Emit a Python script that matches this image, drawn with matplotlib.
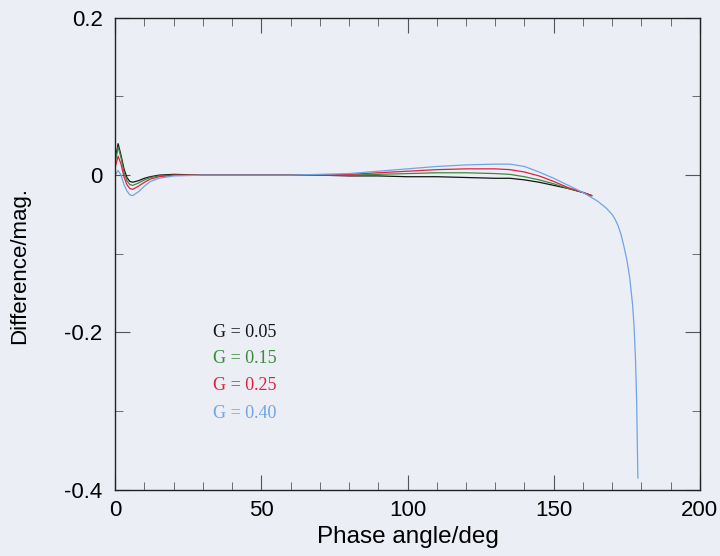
import matplotlib
matplotlib.use("Agg")
import matplotlib.pyplot as plt
from matplotlib.ticker import MultipleLocator

# Data
phase = [0, 1, 2, 3, 4, 5, 6, 8, 10, 12, 15, 20, 30, 40, 50, 60, 70, 80, 90,
         100, 110, 120, 130, 135, 140, 145, 150, 155, 160, 163]
g005 = [0.020, 0.040, 0.025, 0.008, -0.003, -0.008, -0.009, -0.007, -0.004, -0.002,
        0.000, 0.001, 0.000, 0.000, 0.000, 0.000, 0.000, -0.001, -0.001,
        -0.002, -0.002, -0.003, -0.004, -0.004, -0.006, -0.009, -0.013, -0.017, -0.022, -0.026]
g015 = [0.015, 0.036, 0.022, 0.004, -0.007, -0.012, -0.013, -0.010, -0.006, -0.003,
        -0.001, 0.000, 0.000, 0.000, 0.000, 0.000, 0.000, 0.000, 0.001,
        0.002, 0.003, 0.003, 0.002, 0.001, -0.002, -0.006, -0.011, -0.017, -0.022, -0.026]
g025 = [0.010, 0.024, 0.014, -0.002, -0.012, -0.017, -0.018, -0.014, -0.009, -0.005,
        -0.002, 0.000, 0.000, 0.000, 0.000, 0.000, 0.000, 0.001, 0.003,
        0.005, 0.007, 0.008, 0.008, 0.007, 0.004, -0.001, -0.008, -0.016, -0.022, -0.026]
phase_b = [0, 1, 2, 3, 4, 5, 6, 8, 10, 12, 15, 20, 30, 40, 50, 60, 70, 80, 90,
           100, 110, 120, 130, 135, 140, 145, 150, 155, 160, 165, 168, 170, 171,
           172, 173, 174, 175, 176, 177, 177.5, 178, 178.4, 178.8]
g040 = [0.000, 0.006, 0.000, -0.012, -0.020, -0.025, -0.026, -0.021, -0.014, -0.008,
        -0.004, -0.001, 0.000, 0.000, 0.000, 0.000, 0.001, 0.002, 0.005,
        0.008, 0.011, 0.013, 0.014, 0.014, 0.011, 0.004, -0.004, -0.013, -0.022,
        -0.033, -0.042, -0.050, -0.056, -0.064, -0.075, -0.090, -0.107, -0.130,
        -0.165, -0.192, -0.235, -0.290, -0.385]

labels = ["G = 0.05", "G = 0.15", "G = 0.25", "G = 0.40"]
colors = ["#141414", "#3c8a3c", "#e0203c", "#70a4e4"]

bg = "#eceef6"
fig = plt.figure(figsize=(7.2, 5.56), dpi=100, facecolor=bg)
ax = fig.add_axes([0.160, 0.119, 0.812, 0.849], facecolor=bg)

series = [(phase, g005), (phase, g015), (phase, g025), (phase_b, g040)]
for (xs, ys), c in zip(series, colors):
    ax.plot(xs, ys, color=c, lw=0.9)

ax.set_xlim(0, 200)
ax.set_ylim(-0.4, 0.2)
ax.xaxis.set_major_locator(MultipleLocator(50))
ax.xaxis.set_minor_locator(MultipleLocator(10))
ax.yaxis.set_minor_locator(MultipleLocator(0.1))
ax.set_yticks([-0.4, -0.2, 0, 0.2])
ax.set_yticklabels(["-0.4", "-0.2", "0", "0.2"])
ax.tick_params(which="both", direction="in", top=True, right=True, color="#555555")
ax.tick_params(which="major", length=11, width=0.8, labelsize=16)
ax.tick_params(axis="y", which="major", pad=9)
ax.tick_params(axis="x", which="major", pad=7)
ax.tick_params(which="minor", length=6, width=0.6)
for lab in ax.get_xticklabels() + ax.get_yticklabels():
    lab.set_fontfamily("Liberation Sans")
for s in ax.spines.values():
    s.set_color("#222222")
    s.set_linewidth(1.0)

ax.set_xlabel("Phase angle/deg", fontsize=17.5, family="Liberation Sans", labelpad=4)
ax.set_ylabel("Difference/mag.", fontsize=16, family="Liberation Sans")
ax.yaxis.set_label_coords(-0.145, 0.475)

ys_leg = [-0.200, -0.233, -0.268, -0.303]
for lab, c, yl in zip(labels, colors, ys_leg):
    ax.text(33.5, yl, lab, color=c, fontsize=13, family="Liberation Serif", va="center")

fig.savefig("out.png", dpi=100, facecolor=bg)
